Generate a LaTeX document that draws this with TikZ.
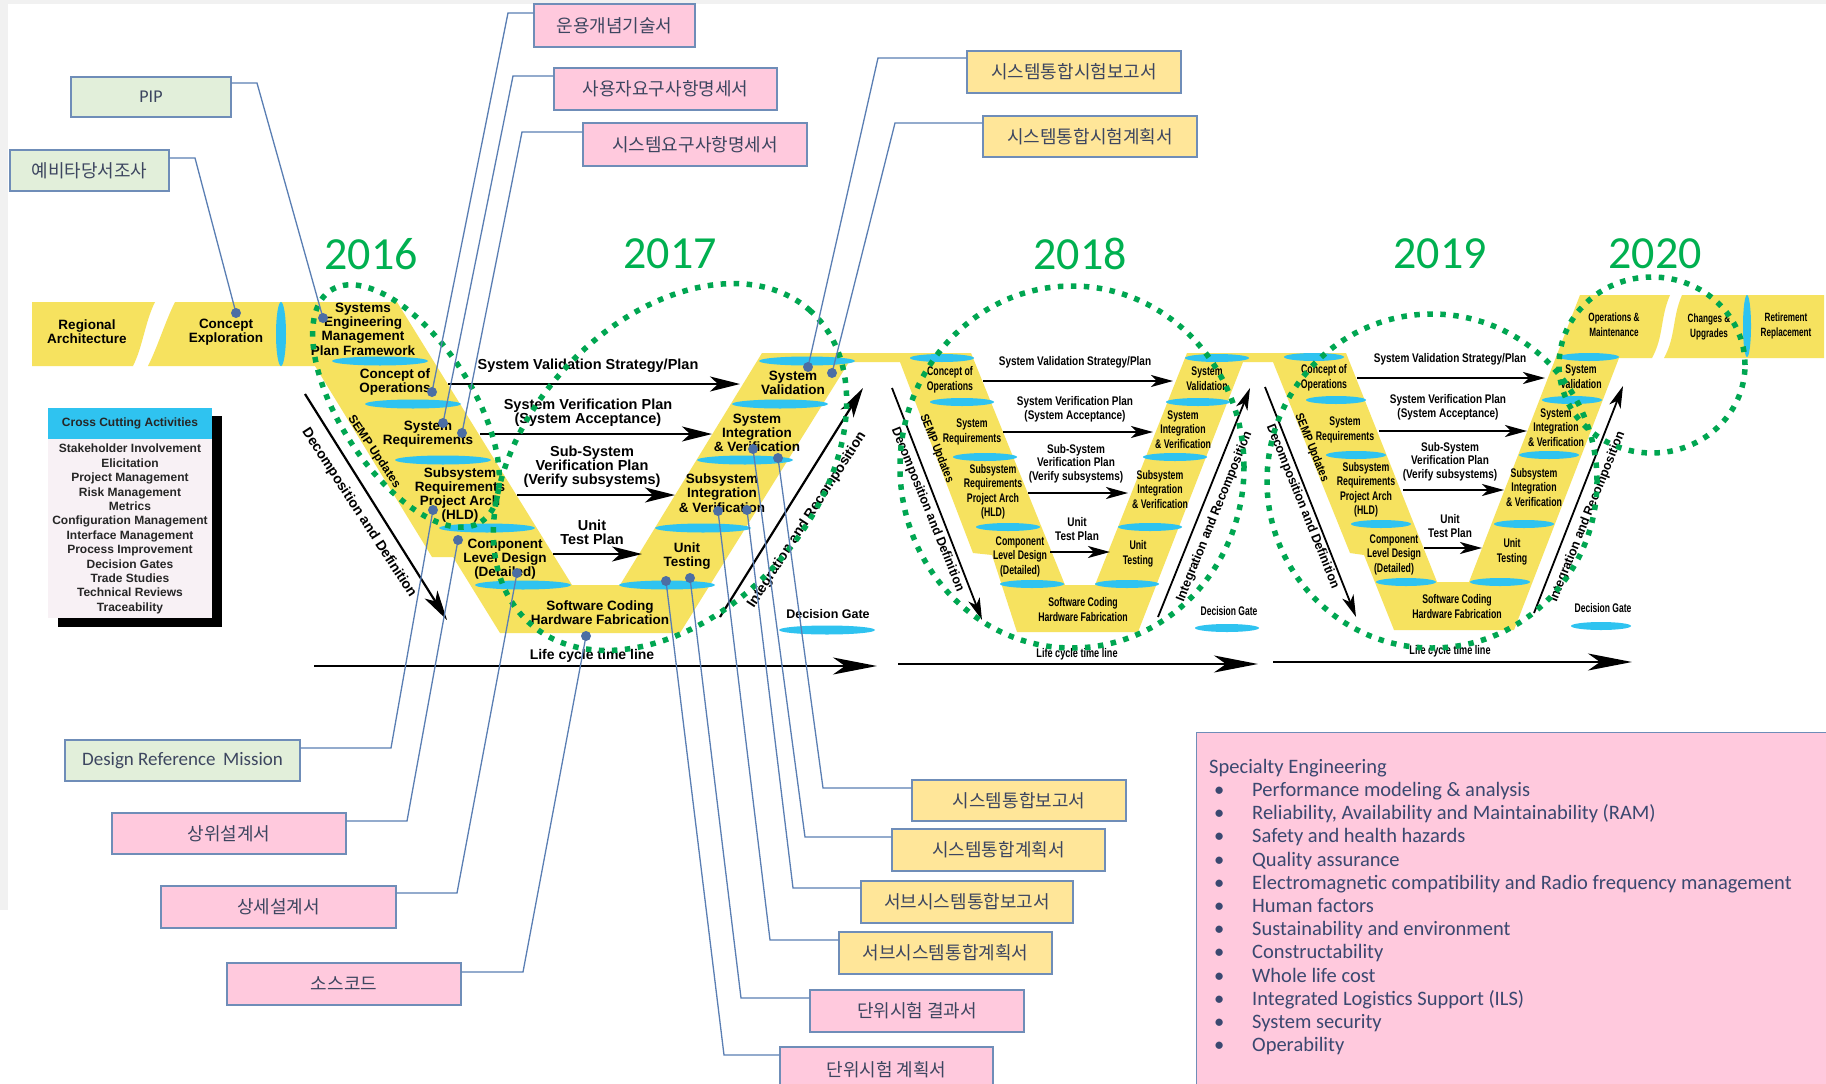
\documentclass[tikz,border=0pt]{standalone}
\usepackage{fontspec}
\setmainfont{Liberation Sans}
\newfontfamily\krfont{Noto Sans CJK KR}
\newfontfamily\calfont{Carlito}
\usetikzlibrary{arrows.meta}

\definecolor{vyellow}{HTML}{F6E25F}
\definecolor{gatecyan}{HTML}{2FC3F0}
\definecolor{linkblue}{HTML}{5A7EB3}
\definecolor{dotblue}{HTML}{4C6EA4}
\definecolor{boxedge}{HTML}{6F8DB8}
\definecolor{pinkfill}{HTML}{FFC9DD}
\definecolor{greenfill}{HTML}{E2EFDA}
\definecolor{yellowfill}{HTML}{FFE699}
\definecolor{yeargreen}{HTML}{00B050}
\definecolor{ringgreen}{HTML}{00A651}
\definecolor{boxtext}{HTML}{3D4660}
\definecolor{spectext}{HTML}{3A4870}
\definecolor{crossbody}{HTML}{F8F1F5}
\definecolor{edgegray}{HTML}{F1F1F1}

% condensed centred block
\newcommand{\nar}[2][0.7]{\scalebox{#1}[1]{\begin{tabular}{@{}c@{}}#2\end{tabular}}}

\begin{document}
\begin{tikzpicture}[x=1pt, y=-1pt,
  stage/.style={font=\bfseries\fontsize{13.5}{14.3}\selectfont, align=center, inner sep=0pt},
  plan/.style={font=\bfseries\fontsize{14.5}{14}\selectfont, align=center, inner sep=0pt},
  nstage/.style={font=\bfseries\fontsize{12.5}{14.6}\selectfont, inner sep=0pt},
  nplan/.style={font=\bfseries\fontsize{12.5}{13.4}\selectfont, inner sep=0pt},
  bandtxt/.style={font=\bfseries\fontsize{12}{15}\selectfont, inner sep=0pt},
  flow/.style={line width=2.2pt, -{Stealth[length=30pt, width=15pt, inset=8pt]}},
  thinflow/.style={line width=1.8pt, -{Stealth[length=22pt, width=12pt, inset=6pt]}},
  timeline/.style={line width=2.2pt, -{Stealth[length=44pt, width=17pt, inset=12pt]}},
  ring/.style={draw=ringgreen, line width=5.5pt, dash pattern=on 5.5pt off 7.5pt},
  year/.style={font=\calfont\fontsize{46}{46}\selectfont, text=yeargreen, inner sep=0pt},
  doc/.style={draw=boxedge, line width=1.3pt, inner sep=0pt, text=boxtext, font=\krfont\fontsize{18}{20}\selectfont},
  pinkdoc/.style={doc, fill=pinkfill},
  greendoc/.style={doc, fill=greenfill},
  yellowdoc/.style={doc, fill=yellowfill},
  link/.style={draw=linkblue, line width=1.3pt},
]
\useasboundingbox (0,0) rectangle (1826,1084);
\fill[white] (0,0) rectangle (1826,1084);
\fill[edgegray] (0,0) rectangle (1826,4);
\fill[edgegray] (0,0) rectangle (8,910);

% ---------- years ----------
\node[year] (y16) at (371,254) {2016};
\node[year] (y17) at (670,254) {2017};
\node[year] (y18) at (1080,254) {2018};
\node[year] (y19) at (1440,254) {2019};
\node[year] (y20) at (1655,254) {2020};

% ---------- yellow life-cycle lane ----------
\fill[vyellow] (32,302) -- (155,302) .. controls (145,322) and (143,346) .. (133,366) -- (32,366) -- cycle;
\fill[vyellow] (175,302) -- (397,302) -- (572,585) -- (620,585) -- (762,353)
  -- (971,353) -- (1065,585) -- (1095,585) -- (1187,353)
  -- (1346,353) -- (1437,582) -- (1469,582) -- (1580,295)
  -- (1670,295) .. controls (1660,318) and (1664,336) .. (1652,358)
  -- (1619,358) -- (1514,630) -- (1394,630) -- (1364,555) -- (1350,553) -- (1273,362)
  -- (1243,362) -- (1138,632) -- (1017,632) -- (992,555) -- (973,553) -- (900,362)
  -- (849,362) -- (680,633) -- (500,633) -- (453,557) -- (432,557) -- (315,366)
  -- (148,366) .. controls (158,346) and (165,322) .. (175,302) -- cycle;
\fill[vyellow] (1682,295) -- (1824,295) -- (1824,358) -- (1664,358)
  .. controls (1676,336) and (1672,318) .. (1682,295) -- cycle;

% ---------- decision gates ----------
\fill[gatecyan] (281,334) ellipse [x radius=5pt, y radius=32pt];
\fill[gatecyan] (1747,326) ellipse [x radius=4pt, y radius=31pt];
\foreach \x/\y in {380/361, 413/404, 443/460, 487/528, 523/585,
                   667/585, 703/528, 745/460, 780/404, 807/361, 827/630}
  \fill[gatecyan] (\x,\y) ellipse [x radius=48pt, y radius=4.5pt];
\foreach \x/\y in {942/358, 962/402, 985/457, 1008/527, 1032/584,
                   1127/584, 1150/527, 1175/457, 1198/402, 1217/358, 1227/628}
  \fill[gatecyan] (\x,\y) ellipse [x radius=32pt, y radius=4pt];
\foreach \x/\y in {1314/357, 1336/400, 1356/455, 1381/524, 1406/582,
                   1500/582, 1524/524, 1549/455, 1572/400, 1589/357, 1601/626}
  \fill[gatecyan] (\x,\y) ellipse [x radius=30pt, y radius=4pt];

% ---------- first Vee ----------
\node[stage] (regarch) at (87,332) {Regional\\Architecture};
\node[stage] (conexp) at (226,332) {Concept\\Exploration};
\node[stage] (semp) at (363,329) {Systems\\Engineering\\Management\\Plan Framework};
\node[stage] (conops1) at (395,382) {Concept of\\Operations};
\node[stage] (sysreq1) at (428,434) {System\\Requirements};
\node[stage] (subreq1) at (460,495) {Subsystem\\Requirements\\Project Arch\\(HLD)};
\node[stage] (comp1) at (505,559) {Component\\Level Design\\(Detailed)};
\node[stage] (code1) at (600,613) {Software Coding\\Hardware Fabrication};
\node[stage] (unit1) at (687,556) {Unit\\Testing};
\node[stage] (subint1) at (722,493) {Subsystem\\Integration\\\& Verification};
\node[stage] (sysint1) at (757,433) {System\\Integration\\\& Verification};
\node[stage] (sysval1) at (793,383) {System\\Validation};

\node[plan] (p1a) at (588,366) {System Validation Strategy/Plan};
\node[plan] (p1b) at (588,413) {System Verification Plan\\(System Acceptance)};
\node[plan] (p1c) at (592,467) {Sub-System\\Verification Plan\\(Verify subsystems)};
\node[plan] (p1d) at (592,532) {Unit\\Test Plan};
\node[font=\bfseries\fontsize{14}{14}\selectfont, inner sep=0pt] (life1) at (592,656) {Life cycle time line};
\node[font=\bfseries\fontsize{12.5}{14}\selectfont, inner sep=0pt] (dg1) at (828,614) {Decision Gate};
\node[font=\bfseries\fontsize{12}{12}\selectfont, rotate=-56, inner sep=0pt] (upd1) at (374,452) {SEMP Updates};
\node[font=\bfseries\fontsize{14}{14}\selectfont, rotate=-57, inner sep=0pt] (dec1) at (359,513) {Decomposition and Definition};
\node[font=\bfseries\fontsize{14}{14}\selectfont, rotate=57, inner sep=0pt] (int1) at (807,520) {Integration and Recomposition};

\coordinate (a1s) at (448,384); \coordinate (a1e) at (740,384);
\coordinate (b1s) at (480,434); \coordinate (b1e) at (712,434);
\coordinate (c1s) at (517,495); \coordinate (c1e) at (675,495);
\coordinate (d1s) at (553,554); \coordinate (d1e) at (642,554);
\coordinate (t1s) at (314,666); \coordinate (t1e) at (877,666);
\coordinate (dd1s) at (305,394); \coordinate (dd1e) at (447,620);
\coordinate (ir1s) at (720,617); \coordinate (ir1e) at (863,388);
\draw[flow] (a1s) -- (a1e);
\draw[flow] (b1s) -- (b1e);
\draw[flow] (c1s) -- (c1e);
\draw[flow] (d1s) -- (d1e);
\draw[timeline] (t1s) -- (t1e);
\draw[flow] (dd1s) -- (dd1e);
\draw[flow] (ir1s) -- (ir1e);

% ---------- second Vee ----------
\node[nstage] (conops2) at (950,380) {\nar{Concept of\\Operations}};
\node[nstage] (sysreq2) at (972,432) {\nar{System\\Requirements}};
\node[nstage] (subreq2) at (993,492) {\nar{Subsystem\\Requirements\\Project Arch\\(HLD)}};
\node[nstage] (comp2) at (1020,557) {\nar{Component\\Level Design\\(Detailed)}};
\node[nstage] (code2) at (1083,611) {\nar{Software Coding\\Hardware Fabrication}};
\node[nstage] (unit2) at (1138,554) {\nar{Unit\\Testing}};
\node[nstage] (subint2) at (1160,491) {\nar{Subsystem\\Integration\\\& Verification}};
\node[nstage] (sysint2) at (1183,431) {\nar{System\\Integration\\\& Verification}};
\node[nstage] (sysval2) at (1207,380) {\nar{System\\Validation}};

\node[nplan] (p2a) at (1075,363) {\nar[0.8]{System Validation Strategy/Plan}};
\node[nplan] (p2b) at (1075,410) {\nar[0.8]{System Verification Plan\\(System Acceptance)}};
\node[nplan] (p2c) at (1076,464) {\nar[0.8]{Sub-System\\Verification Plan\\(Verify subsystems)}};
\node[nplan] (p2d) at (1077,531) {\nar[0.8]{Unit\\Test Plan}};
\node[nplan] (life2) at (1077,655) {\nar[0.73]{Life cycle time line}};
\node[nplan] (dg2) at (1229,613) {\nar[0.68]{Decision Gate}};
\node[font=\bfseries\fontsize{12}{12}\selectfont, rotate=-68, inner sep=0pt] (upd2) at (936,449) {\nar[0.85]{SEMP Updates}};
\node[font=\bfseries\fontsize{13}{13}\selectfont, rotate=-68, inner sep=0pt] (dec2) at (927,510) {\nar[0.95]{Decomposition and Definition}};
\node[font=\bfseries\fontsize{13}{13}\selectfont, rotate=68, inner sep=0pt] (int2) at (1215,517) {\nar[0.95]{Integration and Recomposition}};

\coordinate (a2s) at (983,381); \coordinate (a2e) at (1173,381);
\coordinate (b2s) at (1003,432); \coordinate (b2e) at (1153,432);
\coordinate (c2s) at (1028,493); \coordinate (c2e) at (1128,493);
\coordinate (d2s) at (1050,552); \coordinate (d2e) at (1110,552);
\coordinate (t2s) at (898,664); \coordinate (t2e) at (1258,664);
\coordinate (dd2s) at (892,388); \coordinate (dd2e) at (982,620);
\coordinate (ir2s) at (1158,617); \coordinate (ir2e) at (1250,388);
\draw[thinflow] (a2s) -- (a2e);
\draw[thinflow] (b2s) -- (b2e);
\draw[thinflow] (c2s) -- (c2e);
\draw[thinflow] (d2s) -- (d2e);
\draw[timeline] (t2s) -- (t2e);
\draw[thinflow] (dd2s) -- (dd2e);
\draw[thinflow] (ir2s) -- (ir2e);

% ---------- third Vee ----------
\node[nstage] (conops3) at (1324,378) {\nar{Concept of\\Operations}};
\node[nstage] (sysreq3) at (1345,430) {\nar{System\\Requirements}};
\node[nstage] (subreq3) at (1366,490) {\nar{Subsystem\\Requirements\\Project Arch\\(HLD)}};
\node[nstage] (comp3) at (1394,555) {\nar{Component\\Level Design\\(Detailed)}};
\node[nstage] (code3) at (1457,608) {\nar{Software Coding\\Hardware Fabrication}};
\node[nstage] (unit3) at (1512,552) {\nar{Unit\\Testing}};
\node[nstage] (subint3) at (1534,489) {\nar{Subsystem\\Integration\\\& Verification}};
\node[nstage] (sysint3) at (1556,429) {\nar{System\\Integration\\\& Verification}};
\node[nstage] (sysval3) at (1581,378) {\nar{System\\Validation}};

\node[nplan] (p3a) at (1450,360) {\nar[0.8]{System Validation Strategy/Plan}};
\node[nplan] (p3b) at (1448,408) {\nar[0.8]{System Verification Plan\\(System Acceptance)}};
\node[nplan] (p3c) at (1450,462) {\nar[0.8]{Sub-System\\Verification Plan\\(Verify subsystems)}};
\node[nplan] (p3d) at (1450,528) {\nar[0.8]{Unit\\Test Plan}};
\node[nplan] (life3) at (1450,652) {\nar[0.73]{Life cycle time line}};
\node[nplan] (dg3) at (1603,610) {\nar[0.68]{Decision Gate}};
\node[font=\bfseries\fontsize{12}{12}\selectfont, rotate=-68, inner sep=0pt] (upd3) at (1311,448) {\nar[0.85]{SEMP Updates}};
\node[font=\bfseries\fontsize{13}{13}\selectfont, rotate=-68, inner sep=0pt] (dec3) at (1302,507) {\nar[0.95]{Decomposition and Definition}};
\node[font=\bfseries\fontsize{13}{13}\selectfont, rotate=68, inner sep=0pt] (int3) at (1588,517) {\nar[0.95]{Integration and Recomposition}};

\coordinate (a3s) at (1357,378); \coordinate (a3e) at (1545,378);
\coordinate (b3s) at (1379,431); \coordinate (b3e) at (1527,431);
\coordinate (c3s) at (1403,490); \coordinate (c3e) at (1504,490);
\coordinate (d3s) at (1424,548); \coordinate (d3e) at (1482,548);
\coordinate (t3s) at (1273,662); \coordinate (t3e) at (1632,662);
\coordinate (dd3s) at (1265,387); \coordinate (dd3e) at (1356,617);
\coordinate (ir3s) at (1534,613); \coordinate (ir3e) at (1623,386);
\draw[thinflow] (a3s) -- (a3e);
\draw[thinflow] (b3s) -- (b3e);
\draw[thinflow] (c3s) -- (c3e);
\draw[thinflow] (d3s) -- (d3e);
\draw[timeline] (t3s) -- (t3e);
\draw[thinflow] (dd3s) -- (dd3e);
\draw[thinflow] (ir3s) -- (ir3e);

% ---------- operations lane ----------
\node[bandtxt] (opsm) at (1614,326) {\nar[0.68]{Operations \&\\Maintenance}};
\node[bandtxt] (chg) at (1709,327) {\nar[0.68]{Changes \&\\Upgrades}};
\node[bandtxt] (ret) at (1786,326) {\nar[0.68]{Retirement\\Replacement}};

% ---------- yearly scope rings ----------
\draw[ring, rotate around={-57:(406,406)}] (406,406) ellipse [x radius=138pt, y radius=66pt];
\draw[ring, rotate around={48:(670,467)}] (670,467) ellipse [x radius=210pt, y radius=144pt];
\draw[ring] (1072,467) ellipse [x radius=172pt, y radius=181pt];
\draw[ring] (1432,481) ellipse [x radius=165pt, y radius=167pt];
\draw[ring] (1652,365) ellipse [x radius=93pt, y radius=88pt];

% ---------- cross cutting activities ----------
\fill[black] (58,416) rectangle (222,627);
\fill[crossbody] (48,439) rectangle (212,618);
\node[fill=gatecyan, minimum width=164pt, minimum height=31pt, inner sep=0pt,
      font=\bfseries\fontsize{12}{14}\selectfont, text=black!85] (cchead) at (130,423.5) {Cross Cutting Activities};
\node[font=\bfseries\fontsize{12}{14.4}\selectfont, align=center, inner sep=0pt, text=black!85] (ccbody) at (130,529)
  {Stakeholder Involvement\\Elicitation\\Project Management\\Risk Management\\Metrics\\Configuration Management\\Interface Management\\Process Improvement\\Decision Gates\\Trade Studies\\Technical Reviews\\Traceability};

% ---------- deliverable boxes ----------
\node[greendoc, minimum width=159pt, minimum height=41pt] (pre) at (89.5,170.5) {예비타당서조사};
\node[greendoc, minimum width=160pt, minimum height=40pt, font=\calfont\fontsize{18}{20}\selectfont] (pip) at (151,97) {PIP};
\node[pinkdoc, minimum width=161pt, minimum height=43pt] (ops) at (614.5,25.5) {운용개념기술서};
\node[pinkdoc, minimum width=223pt, minimum height=42pt] (ureq) at (665.5,89) {사용자요구사항명세서};
\node[pinkdoc, minimum width=224pt, minimum height=43pt] (sreq) at (695,144.5) {시스템요구사항명세서};
\node[yellowdoc, minimum width=214pt, minimum height=42pt] (sitr) at (1074,72) {시스템통합시험보고서};
\node[yellowdoc, minimum width=214pt, minimum height=41pt] (sitp) at (1090,136.5) {시스템통합시험계획서};
\node[greendoc, minimum width=235pt, minimum height=41pt, font=\calfont\fontsize{19}{20}\selectfont] (drm) at (182.5,760.5) {Design Reference\, Mission};
\node[pinkdoc, minimum width=234pt, minimum height=41pt] (hld) at (229,833.5) {상위설계서};
\node[pinkdoc, minimum width=235pt, minimum height=42pt] (dsg) at (278.5,907) {상세설계서};
\node[pinkdoc, minimum width=234pt, minimum height=42pt] (src) at (344,984) {소스코드};
\node[yellowdoc, minimum width=214pt, minimum height=41pt] (sir) at (1019,800.5) {시스템통합보고서};
\node[yellowdoc, minimum width=213pt, minimum height=42pt] (sip) at (998.5,850) {시스템통합계획서};
\node[yellowdoc, minimum width=212pt, minimum height=42pt] (ssir) at (967,902) {서브시스템통합보고서};
\node[yellowdoc, minimum width=213pt, minimum height=42pt] (ssip) at (945.5,953) {서브시스템통합계획서};
\node[pinkdoc, minimum width=214pt, minimum height=42pt] (utr) at (917,1011) {단위시험 결과서};
\node[pinkdoc, minimum width=213pt, minimum height=45pt] (utp) at (886.5,1069.5) {단위시험 계획서};

% ---------- specialty engineering ----------
\node[draw=boxedge, line width=1.3pt, fill=pinkfill, anchor=north west, minimum width=640pt, minimum height=360pt, inner sep=0pt] (specbox) at (1196,732) {};
\node[anchor=west, align=left, inner sep=0pt, text=spectext, font=\calfont\fontsize{20.5}{23.2}\selectfont] (spec) at (1209,907)
  {Specialty Engineering\\
   \hspace*{5pt}\makebox[38pt][l]{•}Performance modeling \& analysis\\
   \hspace*{5pt}\makebox[38pt][l]{•}Reliability, Availability and Maintainability (RAM)\\
   \hspace*{5pt}\makebox[38pt][l]{•}Safety and health hazards\\
   \hspace*{5pt}\makebox[38pt][l]{•}Quality assurance\\
   \hspace*{5pt}\makebox[38pt][l]{•}Electromagnetic compatibility and Radio frequency management\\
   \hspace*{5pt}\makebox[38pt][l]{•}Human factors\\
   \hspace*{5pt}\makebox[38pt][l]{•}Sustainability and environment\\
   \hspace*{5pt}\makebox[38pt][l]{•}Constructability\\
   \hspace*{5pt}\makebox[38pt][l]{•}Whole life cost\\
   \hspace*{5pt}\makebox[38pt][l]{•}Integrated Logistics Support (ILS)\\
   \hspace*{5pt}\makebox[38pt][l]{•}System security\\
   \hspace*{5pt}\makebox[38pt][l]{•}Operability};

% ---------- attachment points on the Vee ----------
\coordinate (dpre) at (236,313);
\coordinate (dpip) at (323,318);
\coordinate (dconops) at (432,392);
\coordinate (dsreqa) at (443,423);
\coordinate (dsreqb) at (462,433);
\coordinate (dhld) at (433,510);
\coordinate (dcomp) at (458,540);
\coordinate (ddet) at (517,573);
\coordinate (dcode) at (586,636);
\coordinate (duta) at (666,581);
\coordinate (dutb) at (690,578);
\coordinate (dssa) at (718,511);
\coordinate (dssb) at (747,510);
\coordinate (dsia) at (753,449);
\coordinate (dsib) at (778,458);
\coordinate (dsva) at (808,367);
\coordinate (dsvb) at (832,373);

% ---------- connector elbows ----------
\coordinate (k1) at (195,158);
\coordinate (k2) at (257,83);
\coordinate (k3) at (508,13);
\coordinate (k4) at (513,76);
\coordinate (k5) at (522,132);
\coordinate (k6) at (878,58);
\coordinate (k7) at (895,123);
\coordinate (k8) at (391,748);
\coordinate (k9) at (407,821);
\coordinate (k10) at (457,893);
\coordinate (k11) at (523,972);
\coordinate (k12) at (823,788);
\coordinate (k13) at (805,837);
\coordinate (k14) at (793,888);
\coordinate (k15) at (770,940);
\coordinate (k16) at (741,998);
\coordinate (k17) at (724,1055);

\draw[link] (pre.east |- k1) -- (k1) -- (dpre);
\draw[link] (pip.east |- k2) -- (k2) -- (dpip);
\draw[link] (ops.west |- k3) -- (k3) -- (dconops);
\draw[link] (ureq.west |- k4) -- (k4) -- (dsreqa);
\draw[link] (sreq.west |- k5) -- (k5) -- (dsreqb);
\draw[link] (sitr.west |- k6) -- (k6) -- (dsva);
\draw[link] (sitp.west |- k7) -- (k7) -- (dsvb);
\draw[link] (drm.east |- k8) -- (k8) -- (dhld);
\draw[link] (hld.east |- k9) -- (k9) -- (dcomp);
\draw[link] (dsg.east |- k10) -- (k10) -- (ddet);
\draw[link] (src.east |- k11) -- (k11) -- (dcode);
\draw[link] (sir.west |- k12) -- (k12) -- (dsib);
\draw[link] (sip.west |- k13) -- (k13) -- (dsia);
\draw[link] (ssir.west |- k14) -- (k14) -- (dssb);
\draw[link] (ssip.west |- k15) -- (k15) -- (dssa);
\draw[link] (utr.west |- k16) -- (k16) -- (dutb);
\draw[link] (utp.west |- k17) -- (k17) -- (duta);

\foreach \p in {dpre,dpip,dconops,dsreqa,dsreqb,dhld,dcomp,ddet,dcode,duta,dutb,dssa,dssb,dsia,dsib,dsva,dsvb}
  \fill[dotblue] (\p) circle (5pt);

\end{tikzpicture}
\end{document}
